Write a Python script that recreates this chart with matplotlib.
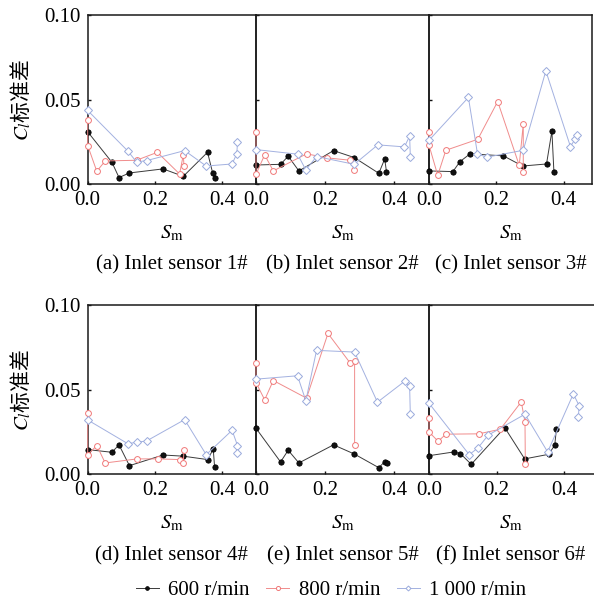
import matplotlib
matplotlib.use("Agg")
import matplotlib.pyplot as plt
from matplotlib.lines import Line2D

plt.rcParams["font.family"] = ["Liberation Serif", "DejaVu Serif"]
plt.rcParams["mathtext.fontset"] = "stix"

# ---- data: Cl standard deviation vs Sm, per inlet sensor and rotating speed ----
speeds = ["600 r/min", "800 r/min", "1 000 r/min"]
captions = ["(a) Inlet sensor 1#", "(b) Inlet sensor 2#", "(c) Inlet sensor 3#",
            "(d) Inlet sensor 4#", "(e) Inlet sensor 5#", "(f) Inlet sensor 6#"]
x_ticks = [0.0, 0.2, 0.4]
x_tick_labels = ["0.0", "0.2", "0.4"]
y_ticks = [0.00, 0.05, 0.10]
y_tick_labels = ["0.00", "0.05", "0.10"]

# sensor 1#
sm_600_1 = [0.0, 0.072, 0.093, 0.124, 0.224, 0.284, 0.356, 0.371, 0.377]
cl_600_1 = [0.031, 0.013, 0.004, 0.0067, 0.0091, 0.0047, 0.0189, 0.0069, 0.0039]
sm_800_1 = [0.0, 0.0, 0.027, 0.052, 0.145, 0.207, 0.273, 0.284, 0.286]
cl_800_1 = [0.0377, 0.0229, 0.0077, 0.0138, 0.0142, 0.0189, 0.0061, 0.0174, 0.011]
sm_1000_1 = [0.0, 0.119, 0.145, 0.175, 0.288, 0.352, 0.429, 0.443, 0.445]
cl_1000_1 = [0.0436, 0.0197, 0.0132, 0.014, 0.0199, 0.0108, 0.012, 0.0181, 0.0247]

# sensor 2#
sm_600_2 = [0.0, 0.071, 0.093, 0.124, 0.224, 0.284, 0.355, 0.372, 0.377]
cl_600_2 = [0.0114, 0.0118, 0.0166, 0.0079, 0.0199, 0.0158, 0.0065, 0.015, 0.0075]
sm_800_2 = [0.0, 0.0, 0.025, 0.050, 0.146, 0.206, 0.273, 0.284]
cl_800_2 = [0.0308, 0.0059, 0.0174, 0.0079, 0.018, 0.0156, 0.0142, 0.0085]
sm_1000_2 = [0.0, 0.120, 0.144, 0.175, 0.284, 0.352, 0.429, 0.444, 0.446]
cl_1000_2 = [0.0205, 0.0178, 0.0085, 0.0164, 0.0118, 0.0233, 0.0221, 0.0284, 0.0164]

# sensor 3#
sm_600_3 = [0.0, 0.071, 0.092, 0.122, 0.221, 0.278, 0.349, 0.365, 0.371]
cl_600_3 = [0.0079, 0.0075, 0.0134, 0.018, 0.0168, 0.0108, 0.012, 0.0314, 0.0073]
sm_800_3 = [0.0, 0.0, 0.026, 0.050, 0.145, 0.204, 0.268, 0.280, 0.280]
cl_800_3 = [0.0308, 0.0231, 0.0053, 0.0201, 0.0266, 0.0489, 0.0112, 0.0357, 0.0073]
sm_1000_3 = [0.0, 0.117, 0.144, 0.171, 0.280, 0.347, 0.420, 0.435, 0.439]
cl_1000_3 = [0.026, 0.0513, 0.018, 0.016, 0.0201, 0.067, 0.0223, 0.027, 0.0292]

# sensor 4#
sm_600_4 = [0.0, 0.072, 0.093, 0.124, 0.224, 0.284, 0.356, 0.373, 0.377]
cl_600_4 = [0.0146, 0.013, 0.0174, 0.0051, 0.0114, 0.0107, 0.0087, 0.0148, 0.0043]
sm_800_4 = [0.0, 0.0, 0.027, 0.052, 0.147, 0.209, 0.273, 0.284, 0.286]
cl_800_4 = [0.0363, 0.0116, 0.017, 0.0067, 0.0091, 0.0091, 0.0087, 0.0065, 0.0144]
sm_1000_4 = [0.0, 0.119, 0.145, 0.175, 0.288, 0.352, 0.429, 0.445, 0.443]
cl_1000_4 = [0.0321, 0.0181, 0.0189, 0.0197, 0.0323, 0.0116, 0.026, 0.017, 0.0124]

# sensor 5#
sm_600_5 = [0.0, 0.071, 0.093, 0.124, 0.224, 0.284, 0.355, 0.372, 0.379]
cl_600_5 = [0.0272, 0.0073, 0.0142, 0.0067, 0.0174, 0.012, 0.0039, 0.0075, 0.0067]
sm_800_5 = [0.0, 0.0, 0.025, 0.050, 0.146, 0.208, 0.273, 0.285, 0.285]
cl_800_5 = [0.0659, 0.0542, 0.044, 0.0554, 0.045, 0.0832, 0.0655, 0.0667, 0.0172]
sm_1000_5 = [0.0, 0.120, 0.144, 0.175, 0.285, 0.351, 0.430, 0.444, 0.446]
cl_1000_5 = [0.0562, 0.0582, 0.0434, 0.0732, 0.0722, 0.0426, 0.055, 0.0519, 0.0355]

# sensor 6#
sm_600_6 = [0.0, 0.0735, 0.093, 0.125, 0.224, 0.283, 0.354, 0.372, 0.377]
cl_600_6 = [0.011, 0.0132, 0.0122, 0.0059, 0.0276, 0.0091, 0.0118, 0.0172, 0.0268]
sm_800_6 = [0.0, 0.0, 0.027, 0.050, 0.147, 0.211, 0.273, 0.284, 0.285]
cl_800_6 = [0.0335, 0.025, 0.0195, 0.0237, 0.0239, 0.0266, 0.0428, 0.031, 0.0063]
sm_1000_6 = [0.0, 0.119, 0.145, 0.175, 0.284, 0.351, 0.427, 0.444, 0.442]
cl_1000_6 = [0.042, 0.0116, 0.0156, 0.0231, 0.0355, 0.0132, 0.0475, 0.0406, 0.0337]

panels = [
    ((sm_600_1, cl_600_1), (sm_800_1, cl_800_1), (sm_1000_1, cl_1000_1)),
    ((sm_600_2, cl_600_2), (sm_800_2, cl_800_2), (sm_1000_2, cl_1000_2)),
    ((sm_600_3, cl_600_3), (sm_800_3, cl_800_3), (sm_1000_3, cl_1000_3)),
    ((sm_600_4, cl_600_4), (sm_800_4, cl_800_4), (sm_1000_4, cl_1000_4)),
    ((sm_600_5, cl_600_5), (sm_800_5, cl_800_5), (sm_1000_5, cl_1000_5)),
    ((sm_600_6, cl_600_6), (sm_800_6, cl_800_6), (sm_1000_6, cl_1000_6)),
]

# ---- styles ----
styles = [
    dict(color="#3a3a3a", lw=0.7, marker="o", ms=3.8, mfc="#111111", mec="#000000", mew=0.6),
    dict(color="#f08c8c", lw=0.7, marker="o", ms=4.2, mfc="white", mec="#f07878", mew=0.7),
    dict(color="#a3b1e0", lw=0.7, marker="D", ms=3.6, mfc="white", mec="#9aaadc", mew=0.7),
]
FS = 15

W, H = 594, 601
fig = plt.figure(figsize=(W / 100, H / 100), dpi=100)

# pixel frames of the panels: (left, right, x upper limit) per column, (top, bottom) per row
col_frames = [(87.7, 256.0, 0.5), (256.0, 429.0, 0.5), (429.0, 592.3, 0.485)]
col_frames_bottom = [(87.7, 256.0, 0.5), (256.0, 429.0, 0.5), (429.0, 598.0, 0.5)]
row_frames = [(15.0, 184.3), (305.0, 474.3)]
xlabel_y = [233, 523]
caption_y = [265, 556]

axes = []
for i, series in enumerate(panels):
    r, c = divmod(i, 3)
    frames = col_frames if r == 0 else col_frames_bottom
    x0, x1, xmax = frames[c]
    top, bot = row_frames[r]
    ax = fig.add_axes([x0 / W, 1 - bot / H, (x1 - x0) / W, (bot - top) / H])
    ax.set_xlim(0, xmax)
    ax.set_ylim(0, 0.1)
    for (xs, ys), st in zip(series, styles):
        ax.plot(xs, ys, clip_on=False, zorder=3, **st)
    ax.set_xticks(x_ticks)
    ax.set_xticklabels(x_tick_labels)
    ax.set_yticks(y_ticks)
    if c == 0:
        ax.set_yticklabels(y_tick_labels)
        ax.set_ylabel("$C_l$标准差", family="Noto Sans CJK SC", fontsize=FS, labelpad=8)
    else:
        ax.set_yticklabels([])
    ax.tick_params(direction="in", length=2.5, width=1.0, labelsize=FS, pad=5,
                   top=False, right=False, color="#111111")
    for sp in ax.spines.values():
        sp.set_linewidth(1.1)
        sp.set_color("#1a1a1a")
    ax.set_facecolor("none")
    cx = (x0 + x1) / 2 if not (r == 1 and c == 2) else (429.0 + 592.3) / 2
    fig.text(cx / W, 1 - xlabel_y[r] / H, r"$S_\mathrm{m}$", ha="center", va="center", fontsize=FS)
    fig.text(cx / W, 1 - caption_y[r] / H, captions[i], ha="center", va="center", fontsize=FS)
    axes.append(ax)

handles = [Line2D([], [], **dict(st, ms=st["ms"] * 0.7)) for st in styles]
fig.legend(handles, speeds, loc="center", bbox_to_anchor=(331 / W, 1 - 590 / H),
           ncol=3, frameon=False, fontsize=FS, handlelength=1.1, handletextpad=0.45,
           columnspacing=0.8)

fig.savefig("out.png", dpi=100, facecolor="white")
